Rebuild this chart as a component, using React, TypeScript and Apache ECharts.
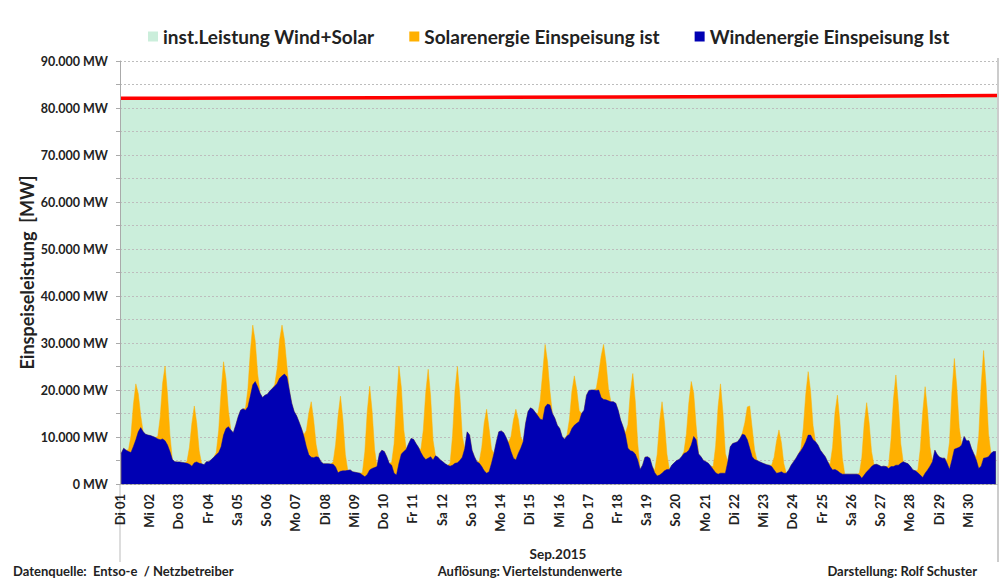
import React, { useEffect, useRef } from "react";
import * as echarts from "echarts";

const dayLabels = [
  "Di 01", "Mi 02", "Do 03", "Fr 04", "Sa 05", "So 06", "Mo 07", "Di 08", "Mi 09", "Do 10",
  "Fr 11", "Sa 12", "So 13", "Mo 14", "Di 15", "Mi 16", "Do 17", "Fr 18", "Sa 19", "So 20",
  "Mo 21", "Di 22", "Mi 23", "Do 24", "Fr 25", "Sa 26", "So 27", "Mo 28", "Di 29", "Mi 30",
];

// sampled hours of each day (odd hours)
const hoursOfDay = [1, 3, 5, 7, 9, 11, 13, 15, 17, 19, 21, 23];

// Windenergie Einspeisung Ist [MW], one row per day, values at hoursOfDay
const windMW: number[][] = [
  [6500, 7600, 7200, 6900, 6700, 8000, 9400, 11100, 12000, 11100, 10600, 10400],
  [10300, 10100, 9900, 9600, 9400, 9600, 9200, 8300, 6900, 5200, 4750, 4700],
  [4700, 4600, 4500, 4400, 4200, 3800, 4500, 4700, 4400, 4300, 4100, 4750],
  [4750, 5200, 5700, 6200, 6700, 7900, 10400, 11800, 12200, 11500, 10900, 12500],
  [14300, 15700, 16000, 15700, 16400, 18700, 21100, 21800, 20700, 19300, 18400, 18900],
  [19100, 19800, 20300, 20800, 21400, 22500, 23000, 23400, 22800, 20000, 17200, 15400],
  [14500, 13200, 11800, 10100, 7900, 6200, 5700, 5600, 5800, 5700, 4750, 4300],
  [4300, 4300, 4250, 4200, 3600, 2400, 2700, 2800, 2800, 2900, 3000, 2600],
  [2500, 2400, 2300, 1900, 1550, 2000, 3000, 3300, 3500, 3700, 6500, 7200],
  [6900, 5800, 4400, 4000, 2300, 1900, 4400, 6400, 6900, 7400, 8600, 9700],
  [9500, 8600, 7800, 6700, 5800, 5200, 5500, 5800, 5100, 6000, 5700, 5100],
  [4750, 4300, 4000, 3800, 4000, 4400, 4500, 5000, 5700, 7500, 11100, 10400],
  [7200, 5800, 4750, 4400, 3700, 2800, 2300, 2600, 4400, 6500, 9000, 11100],
  [11300, 10900, 9900, 8600, 6900, 5500, 5100, 6500, 7600, 9000, 12900, 15400],
  [16200, 15900, 15200, 14500, 13800, 13600, 16400, 17000, 16800, 15000, 14000, 12500],
  [11800, 10100, 9500, 10200, 10600, 11800, 12500, 12900, 13300, 15000, 15700, 18900],
  [19900, 20000, 20000, 19900, 20000, 18400, 18000, 17900, 17700, 17500, 17500, 17200],
  [15700, 13600, 12200, 10400, 7600, 7100, 6900, 6400, 5100, 3100, 4000, 5700],
  [5800, 5500, 3700, 2400, 1700, 1900, 2300, 2800, 3100, 3100, 4000, 4500],
  [5000, 5200, 5800, 6500, 6700, 7200, 8300, 10100, 9400, 6400, 5800, 5000],
  [4750, 4400, 3800, 3100, 2400, 2100, 2300, 2300, 2300, 4750, 7900, 8600],
  [8800, 9000, 9700, 10600, 10400, 9400, 7600, 5800, 5200, 5000, 4750, 4500],
  [4300, 4100, 4000, 3700, 3000, 2300, 2400, 2600, 2300, 2300, 3000, 4000],
  [4750, 5500, 6400, 7100, 7900, 9000, 10400, 10400, 9400, 9000, 8300, 7200],
  [6500, 5800, 4750, 3700, 3000, 3100, 2800, 2400, 2100, 2100, 2100, 2100],
  [2100, 2100, 2100, 1900, 1200, 1900, 2600, 3100, 3700, 4100, 4200, 4000],
  [3700, 3800, 3700, 3300, 3700, 3700, 4000, 4000, 4400, 4750, 4500, 4300],
  [3700, 3000, 2800, 2400, 1900, 1400, 2300, 3000, 3800, 4750, 7200, 6200],
  [5700, 5500, 5500, 4400, 3100, 5100, 7400, 7600, 7800, 8300, 10100, 9200],
  [9200, 7600, 6400, 5100, 3300, 3800, 5500, 5600, 5800, 6500, 6900, 6900],
];

// daylight hours with solar feed-in; other hours are 0
const solarHours = [7, 9, 11, 13, 15, 17];

// Solarenergie Einspeisung ist [MW], one row per day, values at solarHours
const solarMW: number[][] = [
  [400, 3600, 8900, 11900, 8100, 2600],
  [500, 4800, 11900, 15900, 10800, 3500],
  [400, 3600, 9100, 12100, 8200, 2700],
  [500, 4700, 11700, 15600, 10600, 3400],
  [400, 3800, 9500, 12700, 8600, 2800],
  [300, 3200, 8100, 10800, 7300, 2400],
  [400, 3500, 8900, 11800, 8000, 2600],
  [500, 4800, 12000, 16000, 10900, 3500],
  [500, 5300, 13400, 17800, 12100, 3900],
  [600, 6200, 15500, 20700, 14100, 4600],
  [600, 5700, 14200, 18900, 12900, 4200],
  [600, 6200, 15400, 20500, 13900, 4500],
  [400, 4100, 10200, 13600, 9200, 3000],
  [300, 3200, 8100, 10800, 7300, 2400],
  [400, 4000, 10000, 13300, 9000, 2900],
  [300, 3200, 7900, 10500, 7100, 2300],
  [400, 3500, 8800, 11700, 8000, 2600],
  [500, 5000, 12500, 16600, 11300, 3700],
  [500, 4600, 11400, 15200, 10300, 3300],
  [400, 4000, 10100, 13500, 9200, 3000],
  [600, 5700, 14300, 19000, 12900, 4200],
  [300, 2700, 7000, 9000, 6100, 2000],
  [300, 2700, 6800, 9100, 6200, 2000],
  [400, 4000, 10100, 13500, 9200, 3000],
  [500, 4800, 12100, 16100, 10900, 3500],
  [400, 4400, 11000, 14700, 10000, 3200],
  [600, 5800, 14400, 19200, 13100, 4200],
  [600, 5500, 13800, 18400, 12500, 4000],
  [600, 5800, 14500, 19300, 13100, 4200],
  [700, 6900, 17200, 22900, 15600, 5000],
];

// installed capacity wind + solar [MW] (step values from given hour of month)
const capacityHours = [0, 48, 216, 408, 600, 720];
const capacityMW = [82050, 82200, 82350, 82500, 82650, 82650];

const FONT = "Lato, 'Open Sans', sans-serif";

export default function App() {
  const ref = useRef<HTMLDivElement>(null);

  useEffect(() => {
    if (!ref.current) return;
    const chart = echarts.init(ref.current, undefined, { renderer: "svg" });

    const windData: number[][] = [];
    const totalData: number[][] = [];
    windMW.forEach((row, d) => {
      row.forEach((w, k) => {
        const h = hoursOfDay[k];
        const si = solarHours.indexOf(h);
        const s = si >= 0 ? solarMW[d][si] : 0;
        windData.push([d * 24 + h, w]);
        totalData.push([d * 24 + h, w + s]);
      });
    });
    const capData = capacityHours.map((h, i) => [h, capacityMW[i]]);

    const txt = { fontFamily: FONT, fontWeight: "bold" as const, color: "#222" };

    chart.setOption({
      animation: false,
      backgroundColor: "#ffffff",
      textStyle: { fontFamily: FONT },
      legend: {
        left: 143,
        top: 22,
        icon: "rect",
        itemWidth: 10,
        itemHeight: 10,
        itemGap: 35,
        textStyle: { ...txt, fontSize: 19 },
        data: [
          { name: "inst.Leistung Wind+Solar", itemStyle: { color: "#cbeedb" } },
          { name: "Solarenergie Einspeisung ist", itemStyle: { color: "#ffb000" } },
          { name: "Windenergie Einspeisung Ist", itemStyle: { color: "#0000b3" } },
        ],
      },
      grid: { left: 120, right: 8, top: 61, bottom: 102, containLabel: false },
      xAxis: {
        type: "value",
        min: 0,
        max: 720,
        interval: 24,
        axisLine: { show: true, lineStyle: { color: "#999" } },
        axisTick: { show: false },
        splitLine: { show: false },
        axisLabel: {
          ...txt,
          fontSize: 13,
          rotate: 90,
          margin: 10,
          showMaxLabel: false,
          formatter: (v: number) => dayLabels[Math.round(v / 24)] ?? "",
        },
      },
      yAxis: {
        type: "value",
        min: 0,
        max: 90000,
        interval: 5000,
        z: 1,
        name: "Einspeiseleistung  [MW]",
        nameLocation: "middle",
        nameGap: 84,
        nameMoveOverlap: false,
        nameTextStyle: { ...txt, fontSize: 18 },
        axisLine: { show: true, lineStyle: { color: "#aaa" } },
        axisTick: { show: true, length: 4, lineStyle: { color: "#aaa" } },
        splitLine: { show: true, lineStyle: { color: "#bdbdbd", type: [2, 2], width: 1 } },
        axisLabel: {
          ...txt,
          fontSize: 12.5,
          margin: 12,
          formatter: (v: number) =>
            v % 10000 !== 0 ? "" : v === 0 ? "0 MW" : `${v / 1000}.000 MW`,
        },
      },
      series: [
        {
          name: "inst.Leistung Wind+Solar",
          type: "line",
          step: "end",
          z: 0,
          data: capData,
          symbol: "none",
          itemStyle: { color: "#cbeedb" },
          lineStyle: { color: "#ff0000", width: 3.5 },
          areaStyle: { color: "#cbeedb", opacity: 1 },
        },
        {
          name: "Solarenergie Einspeisung ist",
          type: "line",
          z: 2,
          data: totalData,
          symbol: "none",
          itemStyle: { color: "#ffb000" },
          lineStyle: { width: 0.5, color: "#ffb000" },
          areaStyle: { color: "#ffb000", opacity: 1 },
        },
        {
          name: "Windenergie Einspeisung Ist",
          type: "line",
          z: 3,
          data: windData,
          symbol: "none",
          itemStyle: { color: "#0000b3" },
          lineStyle: { width: 0.5, color: "#0000b3" },
          areaStyle: { color: "#0000b3", opacity: 1 },
        },
      ],
      graphic: [
        { type: "line", shape: { x1: 120, y1: 484, x2: 120, y2: 562 }, style: { stroke: "#bbb", lineWidth: 1 } },
        { type: "line", shape: { x1: 998, y1: 58, x2: 998, y2: 562 }, style: { stroke: "#ccc", lineWidth: 2 } },
        { type: "text", x: 558, y: 554, style: { text: "Sep.2015", fill: "#222", align: "center", verticalAlign: "middle", font: `bold 13.5px ${FONT}` } },
        { type: "text", x: 13, y: 571, style: { text: "Datenquelle:  Entso-e  / Netzbetreiber", fill: "#222", verticalAlign: "middle", font: `bold 13px ${FONT}` } },
        { type: "text", x: 530, y: 571, style: { text: "Auflösung: Viertelstundenwerte", fill: "#222", align: "center", verticalAlign: "middle", font: `bold 13px ${FONT}` } },
        { type: "text", x: 977, y: 571, style: { text: "Darstellung: Rolf Schuster", fill: "#222", align: "right", verticalAlign: "middle", font: `bold 13px ${FONT}` } },
      ],
    });

    return () => chart.dispose();
  }, []);

  return <div ref={ref} style={{ width: 1005, height: 586, position: "absolute", left: 0, top: 0 }} />;
}
